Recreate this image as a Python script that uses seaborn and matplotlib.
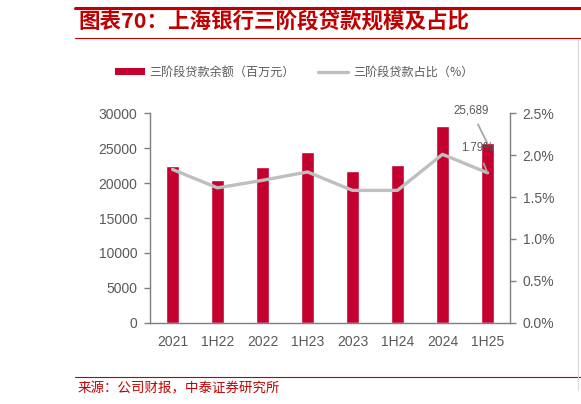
import matplotlib
matplotlib.use("Agg")
import matplotlib.pyplot as plt
import matplotlib.ticker as mticker
import numpy as np
import seaborn as sns
from matplotlib.lines import Line2D
from matplotlib.patches import Patch

periods = ["2021", "1H22", "2022", "1H23", "2023", "1H24", "2024", "1H25"]
loans = [22400, 20440, 22260, 24450, 21730, 22550, 28180, 25689]   # 百万元
ratios = [1.83, 1.61, 1.70, 1.80, 1.58, 1.58, 2.01, 1.79]           # %

BAR_RED = "#C4002F"
LINE_GRAY = "#BFBFBF"
AXIS_GRAY = "#7F7F7F"
TEXT_GRAY = "#595959"
TITLE_RED = "#C00000"

sns.set_theme(style="white")
plt.rcParams["font.family"] = ["Liberation Sans", "Noto Sans CJK SC", "DejaVu Sans"]
CJK = ["Noto Sans CJK SC", "DejaVu Sans"]

fig = plt.figure(figsize=(5.81, 4.04), dpi=100)
ax = fig.add_axes([0.2582, 0.2012, 0.6196, 0.5183])

sns.barplot(x=periods, y=loans, color=BAR_RED, width=0.31, saturation=1, ax=ax)
ax.set_xlim(-0.5, len(periods) - 0.5)
ax.set_ylim(0, 30000)
ax.set_yticks(np.arange(0, 30001, 5000))
ax.set_xlabel("")
ax.set_ylabel("")

ax2 = ax.twinx()
sns.lineplot(x=np.arange(len(periods)), y=np.array(ratios) / 100, color=LINE_GRAY,
             linewidth=2.4, ax=ax2)
ax2.set_ylim(0, 0.025)
ax2.set_yticks(np.arange(0, 0.0251, 0.005))
ax2.yaxis.set_major_formatter(mticker.FuncFormatter(lambda v, p: f"{v * 100:.1f}%"))
ax2.set_ylabel("")

for a in (ax, ax2):
    for s in a.spines.values():
        s.set_color(AXIS_GRAY)
        s.set_linewidth(1.0)
    a.spines["top"].set_visible(False)
ax.spines["right"].set_visible(False)
ax2.spines["left"].set_visible(False)
ax2.spines["bottom"].set_visible(False)

ax.set_xticks(np.arange(len(periods)))
ax.set_xticklabels(periods)
ax.set_xticks(np.arange(-0.5, len(periods), 1.0), minor=True)
ax.tick_params(axis="x", which="major", length=0, pad=9, labelsize=10, labelcolor=TEXT_GRAY)
ax.tick_params(axis="x", which="minor", length=4, width=1, color=AXIS_GRAY, direction="out")
ax.tick_params(axis="y", length=4, width=1, color=AXIS_GRAY, direction="out",
               labelsize=10, labelcolor=TEXT_GRAY, left=True, pad=5)
ax2.tick_params(axis="y", length=4, width=1, color=AXIS_GRAY, direction="out",
                labelsize=10, labelcolor=TEXT_GRAY, right=True, pad=5)

# data labels for the latest period
ax.annotate(f"{loans[-1]:,}", xy=(7, loans[-1]), xytext=(6.63, 30450),
            ha="center", va="center", fontsize=8.3, color=TEXT_GRAY,
            arrowprops=dict(arrowstyle="-", color="#A6A6A6", lw=1.3, shrinkA=4, shrinkB=0),
            annotation_clip=False)
ax2.annotate(f"{ratios[-1]:.2f}%", xy=(7, ratios[-1] / 100), xytext=(6.77, 0.0209),
             ha="center", va="center", fontsize=8.3, color=TEXT_GRAY,
             arrowprops=dict(arrowstyle="-", color="#A6A6A6", lw=1.3, shrinkA=5, shrinkB=0),
             annotation_clip=False)
ax2.set_zorder(ax.get_zorder() + 1)
ax2.patch.set_visible(False)

# legend
handles = [Patch(facecolor=BAR_RED, edgecolor="none"),
           Line2D([0], [0], color=LINE_GRAY, lw=2.4)]
fig.legend(handles, ["三阶段贷款余额（百万元）", "三阶段贷款占比（%）"],
           loc="center", bbox_to_anchor=(0.506, 0.822), ncol=2, frameon=False,
           handlelength=2.5, handleheight=0.5, handletextpad=0.4, columnspacing=1.9,
           prop={"family": CJK, "size": 8.7}, labelcolor=TEXT_GRAY)

# title and frame lines
fig.add_artist(Line2D([75 / 581, 1], [1 - 8 / 404] * 2, color=TITLE_RED, lw=2.2))
fig.add_artist(Line2D([75 / 581, 1], [1 - 37.5 / 404] * 2, color=TITLE_RED, lw=0.8))
fig.add_artist(Line2D([75 / 581, 1], [1 - 377 / 404] * 2, color=TITLE_RED, lw=0.8))
fig.add_artist(Line2D([578 / 581] * 2, [1 - 40 / 404, 1 - 390 / 404], color="#D9D9D9", lw=0.8))
fig.text(78 / 581, 1 - 22 / 404, "图表70：上海银行三阶段贷款规模及占比", ha="left", va="center",
         fontsize=15.5, color=TITLE_RED, fontweight="bold", fontstyle="italic", family=CJK)
fig.text(78 / 581, 1 - 388 / 404, "来源：公司财报，中泰证券研究所", ha="left", va="center",
         fontsize=9.7, color=TITLE_RED, family=CJK)

fig.savefig("out.png", dpi=100)
